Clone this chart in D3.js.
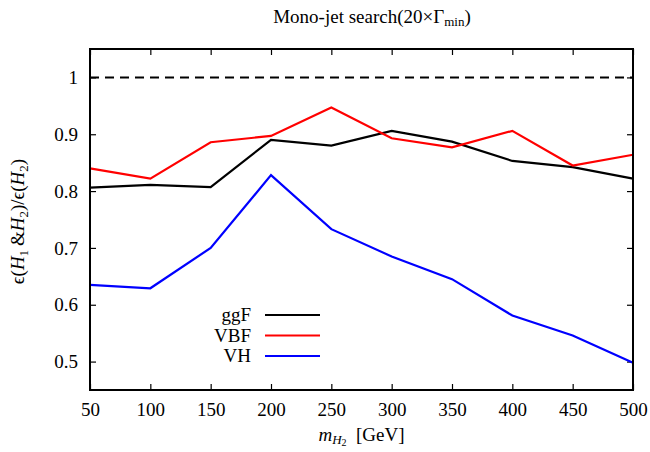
<!DOCTYPE html>
<html>
<head>
<meta charset="utf-8">
<script src="https://cdn.jsdelivr.net/npm/d3@7"></script>
<style>
  html, body { margin: 0; padding: 0; background: #fff; }
  svg text { font-family: "Liberation Serif", "Times New Roman", serif; fill: #000; }
</style>
</head>
<body>
<svg id="chart" width="650" height="452"></svg>
<script>
// H2 mass points (GeV)
const masses = [50, 100, 150, 200, 250, 300, 350, 400, 450, 500];

// efficiency ratio per production channel
const ggF = [0.806, 0.811, 0.807, 0.890, 0.880, 0.906, 0.887, 0.853, 0.842, 0.822];
const VBF = [0.840, 0.822, 0.886, 0.897, 0.947, 0.893, 0.877, 0.906, 0.845, 0.864];
const VH  = [0.635, 0.629, 0.700, 0.828, 0.733, 0.685, 0.645, 0.581, 0.546, 0.498];

const seriesNames = ["ggF", "VBF", "VH"];
const seriesColors = ["#000000", "#ff0000", "#0000ff"];
const seriesValues = [ggF, VBF, VH];

const xTicks = [50, 100, 150, 200, 250, 300, 350, 400, 450, 500];
const yTicks = [0.5, 0.6, 0.7, 0.8, 0.9, 1];
const refLevel = 1;

const svg = d3.select("#chart");
const margin = { left: 90, right: 17, top: 49, bottom: 62 };
const W = 650, H = 452;
const x = d3.scaleLinear().domain([50, 500]).range([margin.left, W - margin.right]);
const y = d3.scaleLinear().domain([0.45, 1.05]).range([H - margin.bottom, margin.top]);

const fs = 19;
const sub = 13;
const tickLen = 6;

// axes with inward ticks on all four sides
const axB = d3.axisBottom(x).tickValues(xTicks).tickSize(tickLen).tickFormat(d3.format("d"));
const gB = svg.append("g").attr("transform", `translate(0,${y.range()[0]})`).call(axB);
gB.selectAll(".tick line").attr("y2", -tickLen);
gB.selectAll(".tick text").attr("y", 13).attr("dy", "0.71em").style("font-size", fs + "px");

const axT = d3.axisTop(x).tickValues(xTicks).tickSize(tickLen).tickFormat("");
const gT = svg.append("g").attr("transform", `translate(0,${y.range()[1]})`).call(axT);
gT.selectAll(".tick line").attr("y2", tickLen);

const axL = d3.axisLeft(y).tickValues(yTicks).tickSize(tickLen).tickFormat(d => d === 1 ? "1" : d3.format(".1f")(d));
const gL = svg.append("g").attr("transform", `translate(${x.range()[0]},0)`).call(axL);
gL.selectAll(".tick line").attr("x2", tickLen);
gL.selectAll(".tick text").attr("x", -12).style("font-size", fs + "px");

const axR = d3.axisRight(y).tickValues(yTicks).tickSize(tickLen).tickFormat("");
const gR = svg.append("g").attr("transform", `translate(${x.range()[1]},0)`).call(axR);
gR.selectAll(".tick line").attr("x2", -tickLen);

[gB, gT, gL, gR].forEach(g => {
  g.select(".domain").remove();
  g.selectAll(".tick line").attr("stroke", "#000").attr("stroke-width", 1.2);
});

// reference line at 1
svg.append("line")
  .attr("x1", x(50)).attr("x2", x(500))
  .attr("y1", y(refLevel)).attr("y2", y(refLevel))
  .attr("stroke", "#000").attr("stroke-width", 2)
  .attr("stroke-dasharray", "9,6");

// curves
const line = d3.line().x((d, i) => x(masses[i])).y(d => y(d));
seriesValues.forEach((vals, k) => {
  svg.append("path")
    .datum(vals)
    .attr("d", line)
    .attr("fill", "none")
    .attr("stroke", seriesColors[k])
    .attr("stroke-width", 2.2)
    .attr("stroke-linejoin", "miter");
});

// frame
svg.append("rect")
  .attr("x", x.range()[0]).attr("y", y.range()[1])
  .attr("width", x.range()[1] - x.range()[0])
  .attr("height", y.range()[0] - y.range()[1])
  .attr("fill", "none").attr("stroke", "#000").attr("stroke-width", 2);

// legend
const leg = svg.append("g");
seriesNames.forEach((name, k) => {
  const ly = 315 + k * 20.5;
  leg.append("text").attr("x", 251).attr("y", ly).attr("dy", "0.33em")
    .attr("text-anchor", "end").style("font-size", fs + "px").text(name);
  leg.append("line").attr("x1", 265).attr("x2", 320).attr("y1", ly).attr("y2", ly)
    .attr("stroke", seriesColors[k]).attr("stroke-width", 2.2);
});

// title
const title = svg.append("text").attr("x", 372).attr("y", 23)
  .attr("text-anchor", "middle").style("font-size", fs + "px");
title.append("tspan").text("Mono-jet search(20×Γ");
title.append("tspan").attr("dy", 3).style("font-size", sub + "px").text("min");
title.append("tspan").attr("dy", -3).text(")");

// x label
const xl = svg.append("text").attr("x", (x.range()[0] + x.range()[1]) / 2).attr("y", 441)
  .attr("text-anchor", "middle").style("font-size", fs + "px");
xl.append("tspan").style("font-style", "italic").text("m");
xl.append("tspan").attr("dy", 3).style("font-size", sub + "px").style("font-style", "italic").text("H");
xl.append("tspan").attr("dy", 2).style("font-size", "10px").text("2");
xl.append("tspan").attr("dy", -5).text("\u2002[GeV]");

// y label
const yl = svg.append("text")
  .attr("transform", `translate(24,${(y.range()[0] + y.range()[1]) / 2 + 2}) rotate(-90)`)
  .attr("text-anchor", "middle").style("font-size", fs + "px");
yl.append("tspan").text("\u03f5(");
yl.append("tspan").style("font-style", "italic").text("H");
yl.append("tspan").attr("dy", 4).style("font-size", sub + "px").text("1");
yl.append("tspan").attr("dy", -4).text("\u2009&");
yl.append("tspan").style("font-style", "italic").text("H");
yl.append("tspan").attr("dy", 4).style("font-size", sub + "px").text("2");
yl.append("tspan").attr("dy", -4).text(")/\u03f5(");
yl.append("tspan").style("font-style", "italic").text("H");
yl.append("tspan").attr("dy", 4).style("font-size", sub + "px").text("2");
yl.append("tspan").attr("dy", -4).text(")");
</script>
</body>
</html>
